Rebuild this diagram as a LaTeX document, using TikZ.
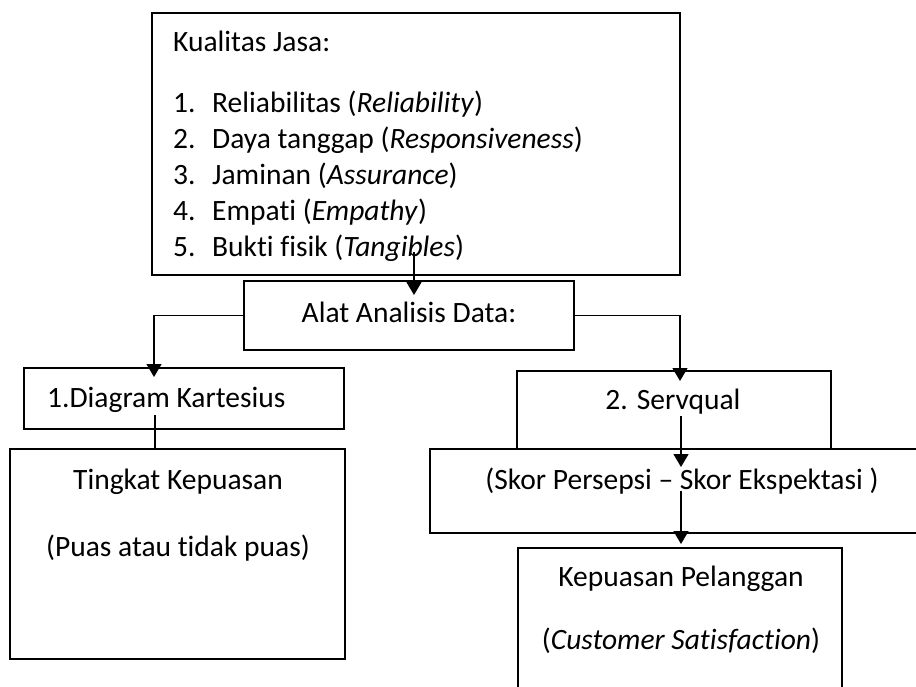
\documentclass[tikz,border=0pt]{standalone}
\usepackage{fontspec}
\setmainfont{Carlito}[Ligatures=NoCommon]
\usetikzlibrary{arrows.meta}

\begin{document}
\begin{tikzpicture}[x=1pt,y=-1pt,
  kotak/.style={draw,line width=1.5pt,inner sep=0pt,outer sep=0pt},
  teks/.style={inner sep=0pt,font=\fontsize{29.5}{36}\selectfont},
  panah/.style={line width=1.4pt,-{Triangle[width=15pt,length=13pt]}},
  garis/.style={line width=1.4pt}]
\useasboundingbox (0,0) rectangle (916,687);
\clip (0,0) rectangle (916,687);
\node [kotak,minimum width=528pt,minimum height=262pt] (jasa) at (416,144) {};
\node [kotak,minimum width=330pt,minimum height=69pt] (alat) at (409,315.5) {};
\node [kotak,minimum width=320pt,minimum height=61pt] (diagram) at (184,398.5) {};
\node [kotak,minimum width=335pt,minimum height=210pt] (tingkat) at (177.5,554) {};
\node [kotak,minimum width=314pt,minimum height=78pt] (servqual) at (674,410) {};
\node [kotak,minimum width=504pt,minimum height=84pt] (skor) at (682,491) {};
\node [kotak,minimum width=324pt,minimum height=172pt] (kepuasan) at (680,634) {};

\node [teks,anchor=base west] (judul) at (173,52) {Kualitas Jasa:};
\node [teks,anchor=base west] (k1) at (173,113) {\makebox[39pt][l]{1.}Reliabilitas (\textit{Reliability})};
\node [teks,anchor=base west] (k2) at (173,149) {\makebox[39pt][l]{2.}Daya tanggap (\textit{Responsiveness})};
\node [teks,anchor=base west] (k3) at (173,185) {\makebox[39pt][l]{3.}Jaminan (\textit{Assurance})};
\node [teks,anchor=base west] (k4) at (173,221) {\makebox[39pt][l]{4.}Empati (\textit{Empathy})};
\node [teks,anchor=base west] (k5) at (173,257) {\makebox[39pt][l]{5.}Bukti fisik (\textit{Tangibles})};
\node [teks,anchor=base] (talat) at (409,322) {Alat Analisis Data:};
\node [teks,anchor=base west] (tdiagram) at (47,407) {1.Diagram Kartesius};
\node [teks,anchor=base] (ttingkat) at (178,489) {Tingkat Kepuasan};
\node [teks,anchor=base] (tpuas) at (178,556) {(Puas atau tidak puas)};
\node [teks,anchor=base] (tservqual) at (673,409) {2. Servqual};
\node [teks,anchor=base] (tskor) at (682,489) {(Skor Persepsi – Skor Ekspektasi )};
\node [teks,anchor=base] (tkepuasan) at (681,586) {Kepuasan Pelanggan};
\node [teks,anchor=base] (tcustomer) at (681,649) {(\textit{Customer Satisfaction})};

\coordinate (p1) at (414,252);
\draw [panah] (p1) -- ([yshift=-14pt]p1 |- alat.north);
\draw [panah] (alat.west) -| ([xshift=-30pt,yshift=-9pt]diagram.north);
\draw [panah] (alat.east) -| ([xshift=6pt,yshift=-10pt]servqual.north);
\draw [garis] ([xshift=-29pt,yshift=14pt]diagram.south) -- ([xshift=-29pt]diagram.south |- tingkat.north);
\draw [panah] ([xshift=7pt,yshift=33pt]servqual.south) -- ([xshift=7pt,yshift=-18pt]servqual.south);
\draw [panah] ([xshift=-1pt]skor.center) -- ([xshift=1pt,yshift=4pt]kepuasan.north);
\end{tikzpicture}
\end{document}
